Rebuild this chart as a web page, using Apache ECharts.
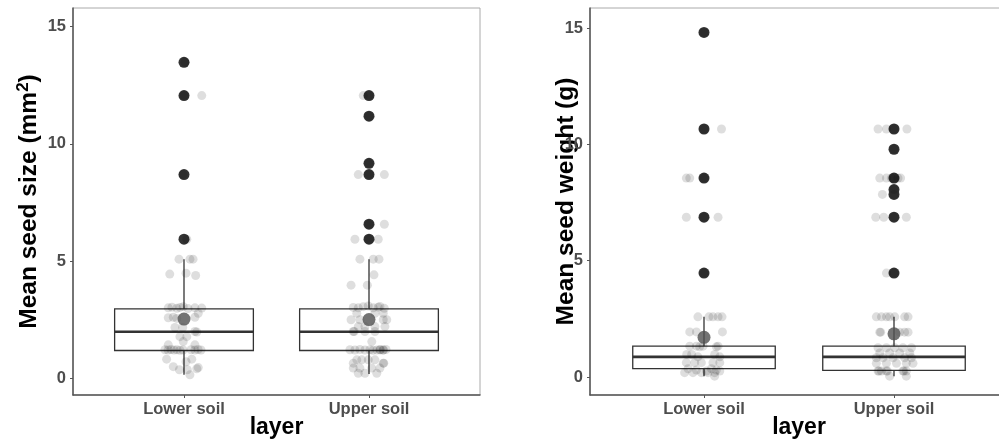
<!DOCTYPE html>
<html><head><meta charset="utf-8">
<script src="https://cdn.jsdelivr.net/npm/echarts@6/dist/echarts.min.js"></script>
<style>html,body{margin:0;padding:0;background:#fff}#c{width:999px;height:442px}</style>
</head><body><div id="c"></div>
<script>
// ---------- data ----------
const categories = ['Lower soil', 'Upper soil'];
const yTickValues = [0, 5, 10, 15];

// box stats: [whiskerLow, q1, median, q3, whiskerHigh]
const sizeBoxLower = [0.14, 1.18, 1.98, 2.96, 5.08];
const sizeBoxUpper = [0.18, 1.18, 1.98, 2.96, 5.08];
const sizeMeans = [2.52, 2.50];
const sizeOutLower = [13.48, 12.06, 8.69, 5.93];
const sizeOutUpper = [12.06, 11.18, 9.17, 8.69, 6.57, 5.93];
const sizeLowerVals = [13.48, 12.06, 12.06, 8.69, 5.93, 5.08, 5.08, 5.08, 4.44, 4.48, 4.38,
  3.00, 3.03, 2.98, 3.02, 3.05, 2.97, 3.00, 2.99, 2.58, 2.60, 2.55, 2.60, 2.77, 2.16, 2.16,
  1.99, 1.97, 1.77, 1.77, 1.56, 1.42, 1.42, 1.21, 1.20, 1.22, 1.20, 1.21, 1.19, 1.20, 1.21,
  1.20, 1.22, 1.20, 0.81, 0.81, 0.70, 0.49, 0.45, 0.36, 0.36, 0.40, 0.14];
const sizeLowerJit = [0.005, 0, 0.096, -0.005, 0.015, -0.027, 0.032, 0.049, -0.077, 0.011, 0.063,
  -0.085, -0.065, -0.039, -0.022, -0.004, 0.022, 0.059, 0.096, -0.085, -0.058, -0.039, 0.059, 0.077, -0.049, -0.007,
  0.059, 0.069, -0.022, 0.015, -0.004, -0.085, 0.059, -0.103, -0.086, -0.070, -0.054, -0.038, -0.022, -0.005, 0.038,
  0.059, 0.076, 0.092, -0.094, 0.042, 0.011, -0.058, 0.077, -0.025, 0.018, 0.069, 0.032];
const sizeUpperVals = [12.06, 12.06, 11.18, 9.17, 8.69, 8.69, 8.69, 6.57, 6.57, 5.93, 5.93, 5.93,
  5.08, 5.08, 5.08, 4.41, 3.97, 3.97, 3.02, 3.00, 3.05, 3.08, 3.00, 3.03, 2.98, 3.06,
  2.77, 2.77, 2.77, 2.49, 2.49, 2.49, 2.49, 2.20, 2.20, 2.20, 2.20, 1.99, 1.99, 1.99, 1.99, 1.56,
  1.21, 1.20, 1.22, 1.20, 1.21, 1.19, 1.20, 1.21, 1.20, 1.22, 1.20, 1.21,
  0.78, 0.78, 0.78, 0.78, 0.64, 0.64, 0.64, 0.43, 0.43, 0.43, 0.43, 0.21, 0.21, 0.21];
const sizeUpperJit = [0, -0.031, 0, 0, -0.058, 0.083, 0, 0.083, 0, -0.076, 0.05, 0,
  -0.049, 0.023, 0.054, 0.027, -0.097, -0.009, -0.085, -0.058, -0.031, -0.004, 0.023, 0.05, 0.083, 0.059,
  -0.066, 0.032, 0.077, -0.097, -0.049, 0.077, 0.096, -0.058, -0.022, 0.032, 0.086, -0.085, -0.080, -0.022, 0.032, 0.015,
  -0.103, -0.076, -0.049, -0.022, 0.005, 0.022, 0.043, 0.059, 0.076, 0.092, 0.078, 0.061,
  -0.066, -0.039, -0.004, 0.032, 0.077, 0.080, -0.085, -0.085, -0.049, 0.015, 0.059, -0.058, -0.022, 0.042];

const weightBoxLower = [0.04, 0.36, 0.87, 1.33, 2.59];
const weightBoxUpper = [0.04, 0.29, 0.87, 1.33, 2.59];
const weightMeans = [1.71, 1.86];
const weightOutLower = [14.81, 10.66, 8.55, 6.87, 4.47];
const weightOutUpper = [10.66, 9.79, 8.55, 8.06, 7.85, 6.87, 4.47];
const weightLowerVals = [14.81, 10.66, 10.66, 8.55, 8.55, 8.55, 6.87, 6.87, 6.87, 4.47,
  2.59, 2.59, 2.59, 2.59, 2.59, 1.94, 1.94, 1.94,
  1.33, 1.33, 1.33, 1.33, 1.30, 1.30, 0.97, 0.97, 0.87, 0.87, 0.97,
  0.62, 0.62, 0.62, 0.62, 0.62, 0.36, 0.30, 0.26, 0.36, 0.30, 0.26, 0.19, 0.19, 0.19, 0.19, 0.19, 0.04];
const weightLowerJit = [0, 0, 0.092, -0.093, -0.075, 0, -0.093, 0.074, 0, 0,
  -0.032, 0.026, 0.047, 0.074, 0.095, -0.075, -0.04, 0.097,
  -0.075, -0.04, -0.005, 0.074, -0.023, 0.065, -0.091, -0.065, -0.032, 0.083, 0.056,
  -0.093, -0.049, -0.014, 0.047, 0.083, -0.084, -0.04, 0.013, 0.039, 0.065, 0.083, -0.102, -0.058, -0.014, 0.021, 0.056, 0.056];
const weightUpperVals = [10.66, 10.66, 10.66, 10.66, 9.79, 8.55, 8.55, 8.55, 8.55, 8.55, 8.55, 8.06, 7.85, 7.85,
  6.87, 6.87, 6.87, 6.87, 4.47, 4.47,
  2.59, 2.59, 2.59, 2.59, 2.59, 2.59, 2.59, 1.93, 1.93, 1.93, 1.93, 1.93,
  1.26, 1.26, 1.26, 1.26, 1.26, 1.04, 1.04, 1.04, 1.04, 0.83, 0.83, 0.83, 0.83, 0.83,
  0.59, 0.59, 0.59, 0.59, 0.59, 0.26, 0.26, 0.26, 0.26, 0.26, 0.26, 0.26, 0.26, 0.04, 0.04];
const weightUpperJit = [-0.084, -0.04, 0.068, 0, 0, -0.075, -0.04, -0.014, 0.021, 0.035, 0, 0, -0.061, 0,
  -0.096, -0.054, 0.065, 0, -0.04, 0,
  -0.093, -0.066, -0.04, -0.023, 0.004, 0.056, 0.074, -0.075, -0.07, 0.03, 0.056, 0.074,
  -0.084, -0.04, 0.004, 0.047, 0.092, -0.075, -0.023, 0.03, 0.083, -0.093, -0.058, -0.005, 0.056, 0.092,
  -0.093, -0.04, 0.013, 0.065, 0.1, -0.084, -0.079, -0.066, -0.04, -0.035, 0.047, 0.052, 0.065, -0.023, 0.065];

// ---------- helpers ----------
const TXT = '#4D4D4D';
const FONT = 'Liberation Sans, Arial, sans-serif';

function boxData(lower, upper) { return [[1].concat(lower), [2].concat(upper)]; }
function jitterData(vals, jit, cat) { return vals.map((v, i) => [cat + jit[i], v]); }
function outData(vals, cat) { return vals.map(v => [cat, v]); }

function renderBox(params, api) {
  const c = api.value(0);
  const lo = api.value(1), q1 = api.value(2), med = api.value(3), q3 = api.value(4), hi = api.value(5);
  const half = 0.375;
  const pL = api.coord([c - half, q3]);
  const pR = api.coord([c + half, q1]);
  const pC1 = api.coord([c, q3]);
  const pHi = api.coord([c, hi]);
  const pC2 = api.coord([c, q1]);
  const pLo = api.coord([c, lo]);
  const mL = api.coord([c - half, med]);
  const mR = api.coord([c + half, med]);
  const st = { stroke: '#333', lineWidth: 1.3, fill: null };
  return {
    type: 'group',
    children: [
      { type: 'line', shape: { x1: pC1[0], y1: pC1[1], x2: pHi[0], y2: pHi[1] }, style: st },
      { type: 'line', shape: { x1: pC2[0], y1: pC2[1], x2: pLo[0], y2: pLo[1] }, style: st },
      { type: 'rect', shape: { x: pL[0], y: pL[1], width: pR[0] - pL[0], height: pR[1] - pL[1] }, style: { stroke: '#333', lineWidth: 1.3, fill: 'rgba(255,255,255,0)' } },
      { type: 'line', shape: { x1: mL[0], y1: mL[1], x2: mR[0], y2: mR[1] }, style: { stroke: '#333', lineWidth: 2.6 } }
    ]
  };
}

function xAxisCfg(gi) {
  return {
    type: 'value', gridIndex: gi, min: 0.4, max: 2.6,
    name: 'layer', nameLocation: 'middle', nameGap: 21, nameMoveOverlap: false,
    nameTextStyle: { color: '#000', fontWeight: 'bold', fontSize: 23, fontFamily: FONT },
    axisLine: { show: true, onZero: false, lineStyle: { color: '#555', width: 1.5 } },
    axisTick: { show: true, length: 3, customValues: [1, 2], lineStyle: { color: '#555' } },
    axisLabel: { customValues: [1, 2], margin: 6, color: TXT, fontWeight: 'bold', fontSize: 16.5, fontFamily: FONT,
      formatter: v => categories[Math.round(v) - 1] },
    splitLine: { show: false }
  };
}
function yAxisCfg(gi, name, min, max, gap, rich) {
  return {
    type: 'value', gridIndex: gi, min: min, max: max,
    name: name, nameLocation: 'middle', nameGap: gap, nameMoveOverlap: false,
    nameTextStyle: { color: '#000', fontWeight: 'bold', fontSize: 24.5, fontFamily: FONT, rich: rich || {} },
    axisLine: { show: true, onZero: false, lineStyle: { color: '#555', width: 1.5 } },
    axisTick: { show: true, length: 3, customValues: yTickValues, lineStyle: { color: '#555' } },
    axisLabel: { customValues: yTickValues, margin: 7, color: TXT, fontWeight: 'bold', fontSize: 16.5, fontFamily: FONT },
    splitLine: { show: false }
  };
}

function panelSeries(idx, boxL, boxU, means, outL, outU, lv, lj, uv, uj) {
  return [
    { type: 'custom', xAxisIndex: idx, yAxisIndex: idx, renderItem: renderBox, data: boxData(boxL, boxU), z: 2, silent: true },
    { type: 'scatter', xAxisIndex: idx, yAxisIndex: idx, data: outData(outL, 1).concat(outData(outU, 2)),
      symbolSize: 11, itemStyle: { color: '#333', opacity: 1 }, z: 3, silent: true },
    { type: 'scatter', xAxisIndex: idx, yAxisIndex: idx, data: jitterData(lv, lj, 1).concat(jitterData(uv, uj, 2)),
      symbolSize: 9, itemStyle: { color: 'rgba(0,0,0,0.13)', opacity: 1 }, z: 4, silent: true },
    { type: 'scatter', xAxisIndex: idx, yAxisIndex: idx, data: [[1, means[0]], [2, means[1]]],
      symbolSize: 13, itemStyle: { color: 'rgba(80,80,80,0.8)', opacity: 1 }, z: 5, silent: true }
  ];
}

const chart = echarts.init(document.getElementById('c'), null, { renderer: 'canvas' });
chart.setOption({
  animation: false,
  backgroundColor: '#fff',
  grid: [
    { left: 73, top: 8, width: 407, height: 387, show: true, borderColor: '#aaa', borderWidth: 1, backgroundColor: 'transparent', containLabel: false, outerBoundsMode: 'none' },
    { left: 590, top: 8, width: 418, height: 387, show: true, borderColor: '#aaa', borderWidth: 1, backgroundColor: 'transparent', containLabel: false, outerBoundsMode: 'none' }
  ],
  xAxis: [xAxisCfg(0), xAxisCfg(1)],
  yAxis: [
    yAxisCfg(0, 'Mean seed size (mm{sup|2})', -0.72, 15.8, 29,
      { sup: { fontSize: 17, fontWeight: 'bold', color: '#000', fontFamily: FONT, verticalAlign: 'top', padding: [0, 0, 12, 0] } }),
    yAxisCfg(1, 'Mean seed weight (g)', -0.77, 15.86, 11)
  ],
  series: panelSeries(0, sizeBoxLower, sizeBoxUpper, sizeMeans, sizeOutLower, sizeOutUpper,
      sizeLowerVals, sizeLowerJit, sizeUpperVals, sizeUpperJit)
    .concat(panelSeries(1, weightBoxLower, weightBoxUpper, weightMeans, weightOutLower, weightOutUpper,
      weightLowerVals, weightLowerJit, weightUpperVals, weightUpperJit))
});
</script></body></html>
